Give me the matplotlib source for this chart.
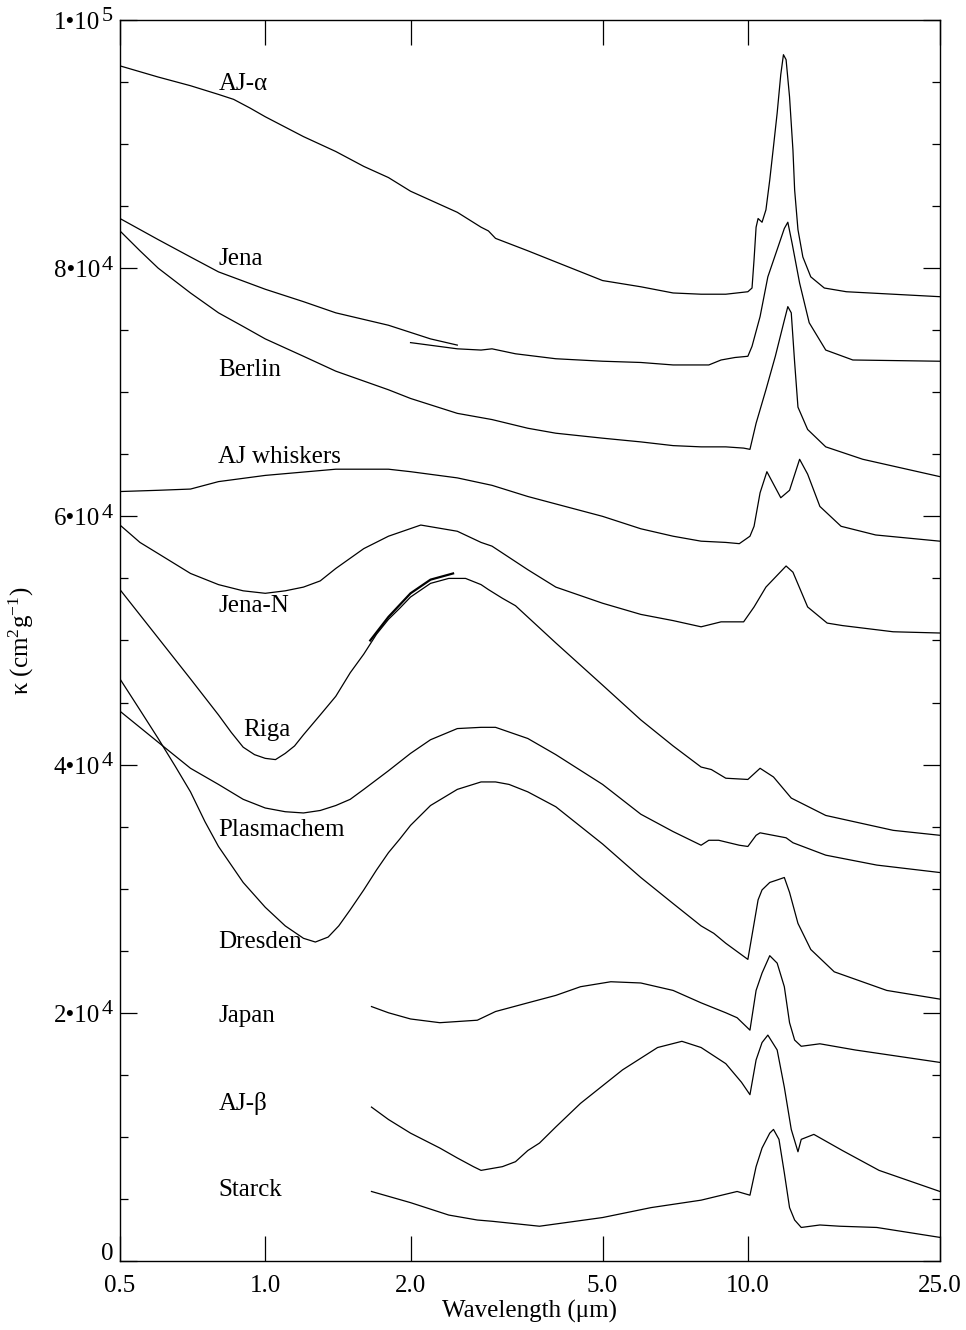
import matplotlib.pyplot as plt
from matplotlib.ticker import FixedLocator, NullLocator
from matplotlib.transforms import blended_transform_factory, offset_copy

plt.rcParams['font.family'] = ['Liberation Serif', 'DejaVu Serif']
plt.rcParams['mathtext.fontset'] = 'custom'
plt.rcParams['mathtext.rm'] = 'Liberation Serif'
plt.rcParams['mathtext.it'] = 'Liberation Serif:italic'

# mass absorption coefficient, in units of 1000 cm^2/g

aja_wl = [0.5, 0.6, 0.7, 0.8, 0.86, 0.93, 1.0, 1.2, 1.4, 1.6, 1.8, 2.0, 2.5, 2.8, 2.9, 3.0,
          3.5, 4.0, 5.0, 6.0, 7.0, 8.0, 9.0, 10.0, 10.2, 10.3, 10.4, 10.5, 10.7, 10.9, 11.1,
          11.3, 11.5, 11.7, 11.85, 12.0, 12.2, 12.4, 12.5, 12.7, 13.0, 13.5, 14.4, 16.0,
          20.0, 25.0]
aja_k = [96.3, 95.4, 94.7, 94.0, 93.6, 92.9, 92.2, 90.6, 89.4, 88.2, 87.3, 86.2, 84.5, 83.3,
         83.0, 82.4, 81.4, 80.5, 79.0, 78.5, 78.0, 77.9, 77.9, 78.1, 78.4, 80.7, 83.3, 84.0,
         83.7, 84.7, 87.1, 89.8, 92.5, 95.6, 97.2, 96.8, 93.8, 89.5, 86.3, 83.1, 80.9,
         79.3, 78.4, 78.1, 77.9, 77.7]

jena_a_wl = [0.5, 0.6, 0.7, 0.8, 1.0, 1.2, 1.4, 1.8, 2.2, 2.5]
jena_a_k = [84.0, 82.3, 80.9, 79.7, 78.3, 77.3, 76.4, 75.4, 74.3, 73.8]
jena_b_wl = [2.0, 2.5, 2.8, 2.95, 3.3, 4.0, 5.0, 6.0, 7.0, 8.0, 8.3, 8.8, 9.4, 10.0, 10.2,
             10.6, 11.0, 11.5, 11.9, 12.1, 12.35, 12.8, 13.4, 14.5, 16.5, 25.0]
jena_b_k = [74.0, 73.5, 73.4, 73.5, 73.1, 72.7, 72.5, 72.4, 72.2, 72.2, 72.2, 72.6, 72.8,
            72.9, 73.7, 76.1, 79.3, 81.5, 83.2, 83.7, 82.0, 78.8, 75.6, 73.4, 72.6, 72.5]

berlin_wl = [0.5, 0.55, 0.6, 0.7, 0.8, 0.9, 1.0, 1.2, 1.4, 1.8, 2.0, 2.5, 2.95, 3.5, 4.0,
             5.0, 6.0, 7.0, 8.0, 9.0, 9.8, 10.1, 10.4, 10.9, 11.4, 11.9, 12.1, 12.3, 12.5,
             12.7, 13.3, 14.5, 17.3, 25.0]
berlin_k = [83.0, 81.4, 80.0, 78.0, 76.4, 75.3, 74.3, 72.9, 71.7, 70.2, 69.5, 68.3, 67.8,
            67.1, 66.7, 66.3, 66.0, 65.7, 65.6, 65.6, 65.5, 65.4, 67.5, 70.2, 72.9, 75.8,
            76.9, 76.4, 72.4, 68.8, 67.0, 65.6, 64.6, 63.2]

whisk_wl = [0.5, 0.6, 0.7, 0.8, 1.0, 1.4, 1.8, 2.0, 2.5, 2.95, 3.5, 4.0, 5.0, 6.0, 7.0, 8.0,
            9.0, 9.6, 10.1, 10.3, 10.6, 10.95, 11.3, 11.7, 12.2, 12.8, 13.3, 14.1, 15.6,
            18.4, 25.0]
whisk_k = [62.0, 62.1, 62.2, 62.8, 63.3, 63.8, 63.8, 63.6, 63.1, 62.5, 61.6, 61.0, 60.0,
           59.0, 58.4, 58.0, 57.9, 57.8, 58.4, 59.2, 61.9, 63.6, 62.6, 61.5, 62.1, 64.6,
           63.4, 60.8, 59.2, 58.5, 58.0]

jenan_wl = [0.5, 0.55, 0.6, 0.7, 0.8, 0.9, 1.0, 1.1, 1.2, 1.3, 1.4, 1.6, 1.8, 2.1, 2.5,
            2.8, 2.95, 3.5, 4.0, 5.0, 6.0, 7.0, 8.0, 8.8, 9.8, 10.3, 10.9, 12.0, 12.4, 13.3,
            14.6, 15.7, 20.0, 25.0]
jenan_k = [59.3, 57.9, 57.0, 55.4, 54.5, 54.0, 53.8, 54.0, 54.3, 54.8, 55.8, 57.4, 58.4,
           59.3, 58.8, 57.9, 57.6, 55.7, 54.3, 53.0, 52.1, 51.6, 51.1, 51.5, 51.5, 52.7,
           54.3, 56.0, 55.5, 52.7, 51.4, 51.2, 50.7, 50.6]

riga_wl = [0.5, 0.6, 0.7, 0.8, 0.85, 0.9, 0.95, 1.0, 1.05, 1.1, 1.15, 1.2, 1.3, 1.4, 1.5,
           1.6, 1.7, 1.8, 1.9, 2.0, 2.2, 2.4, 2.6, 2.8, 2.9, 3.1, 3.3, 4.0, 5.0, 6.0, 7.0,
           8.0, 8.4, 9.0, 10.0, 10.6, 11.3, 12.3, 14.5, 20.0, 25.0]
riga_k = [54.1, 50.2, 46.9, 44.0, 42.6, 41.4, 40.8, 40.5, 40.4, 40.9, 41.5, 42.4, 44.0, 45.5,
          47.4, 48.9, 50.5, 51.7, 52.6, 53.5, 54.6, 55.0, 55.0, 54.5, 54.1, 53.4, 52.8, 49.8,
          46.4, 43.6, 41.5, 39.8, 39.6, 38.9, 38.8, 39.7, 39.0, 37.3, 35.9, 34.7, 34.3]
riga_ext_wl = [1.65, 1.8, 2.0, 2.2, 2.45]
riga_ext_k = [50.0, 51.9, 53.8, 54.9, 55.4]

plasma_wl = [0.5, 0.6, 0.7, 0.8, 0.9, 1.0, 1.1, 1.2, 1.3, 1.4, 1.5, 1.6, 1.8, 2.0, 2.2, 2.5,
             2.8, 3.0, 3.5, 4.0, 5.0, 6.0, 7.0, 8.0, 8.3, 8.7, 9.6, 10.0, 10.4, 10.6, 12.0,
             12.4, 14.5, 18.5, 25.0]
plasma_k = [44.3, 41.8, 39.7, 38.4, 37.2, 36.5, 36.2, 36.1, 36.3, 36.7, 37.2, 38.0, 39.5,
            40.9, 42.0, 42.9, 43.0, 43.0, 42.1, 40.8, 38.4, 36.0, 34.6, 33.5, 33.9, 33.9,
            33.5, 33.4, 34.3, 34.5, 34.1, 33.7, 32.7, 31.9, 31.3]

dresden_wl = [0.5, 0.55, 0.6, 0.65, 0.7, 0.75, 0.8, 0.9, 1.0, 1.1, 1.2, 1.27, 1.35, 1.42,
              1.5, 1.6, 1.7, 1.8, 1.9, 2.0, 2.2, 2.5, 2.8, 3.0, 3.2, 3.5, 4.0, 5.0, 6.0, 7.0,
              8.0, 8.5, 9.0, 10.0, 10.3, 10.5, 10.7, 11.1, 11.5, 11.9, 12.2, 12.7, 13.5,
              15.1, 19.4, 25.0]
dresden_k = [46.9, 44.4, 42.1, 39.9, 37.8, 35.4, 33.4, 30.5, 28.5, 27.0, 26.0, 25.7, 26.1,
             27.0, 28.3, 29.9, 31.5, 32.9, 34.0, 35.1, 36.7, 38.0, 38.6, 38.6, 38.4, 37.8,
             36.6, 33.6, 30.9, 28.8, 27.0, 26.4, 25.6, 24.3, 27.2, 29.1, 29.9, 30.5, 30.7,
             30.9, 29.7, 27.2, 25.1, 23.3, 21.8, 21.1]

japan_wl = [1.66, 1.8, 2.0, 2.3, 2.75, 3.0, 3.5, 4.0, 4.5, 5.2, 6.0, 7.0, 8.0, 9.0, 9.5,
            10.1, 10.4, 10.7, 11.1, 11.5, 11.9, 12.2, 12.5, 12.9, 14.1, 16.7, 25.0]
japan_k = [20.5, 20.0, 19.5, 19.2, 19.4, 20.1, 20.8, 21.4, 22.1, 22.5, 22.4, 21.8, 20.8,
           20.0, 19.6, 18.6, 21.8, 23.2, 24.6, 24.0, 22.1, 19.2, 17.8, 17.3, 17.5, 17.0, 16.0]

ajb_wl = [1.66, 1.8, 2.0, 2.3, 2.5, 2.7, 2.8, 3.1, 3.3, 3.5, 3.7, 4.0, 4.5, 5.5, 6.5, 7.3,
          8.0, 9.0, 9.7, 10.1, 10.4, 10.7, 11.0, 11.5, 11.9, 12.3, 12.7, 12.9, 13.7, 15.7,
          18.7, 25.0]
ajb_k = [12.4, 11.4, 10.3, 9.1, 8.3, 7.6, 7.3, 7.6, 8.0, 8.9, 9.5, 10.8, 12.7, 15.4, 17.2,
         17.7, 17.2, 15.9, 14.4, 13.4, 16.2, 17.6, 18.2, 17.0, 14.0, 10.6, 8.8, 9.8, 10.2,
         8.9, 7.3, 5.6]

starck_wl = [1.66, 2.0, 2.4, 2.75, 2.95, 3.7, 5.0, 6.3, 8.0, 9.5, 10.1, 10.4, 10.7, 11.1,
             11.3, 11.6, 11.9, 12.2, 12.5, 12.9, 14.1, 15.5, 18.5, 25.0]
starck_k = [5.6, 4.7, 3.7, 3.3, 3.2, 2.8, 3.5, 4.3, 4.9, 5.6, 5.3, 7.6, 9.1, 10.3, 10.6, 9.8,
            7.1, 4.3, 3.3, 2.7, 2.9, 2.8, 2.7, 1.9]

curves = [(aja_wl, aja_k), (jena_a_wl, jena_a_k), (jena_b_wl, jena_b_k),
          (berlin_wl, berlin_k), (whisk_wl, whisk_k), (jenan_wl, jenan_k),
          (riga_wl, riga_k), (plasma_wl, plasma_k), (dresden_wl, dresden_k),
          (japan_wl, japan_k), (ajb_wl, ajb_k), (starck_wl, starck_k)]

names = ['AJ-α', 'Jena', 'Berlin', 'AJ whiskers', 'Jena-N', 'Riga', 'Plasmachem',
         'Dresden', 'Japan', 'AJ-β', 'Starck']
name_wl = [0.8, 0.8, 0.8, 0.8, 0.8, 0.9, 0.8, 0.8, 0.8, 0.8, 0.8]
name_k = [94.8, 80.7, 71.8, 64.8, 52.8, 42.8, 34.7, 25.7, 19.7, 12.7, 5.7]

xticks = [0.5, 1.0, 2.0, 5.0, 10.0, 25.0]
yticks = [0, 20000, 40000, 60000, 80000, 100000]
ytick_base = ['0', '2•10', '4•10', '6•10', '8•10', '1•10']
ytick_exp = ['', '4', '4', '4', '4', '5']

fig = plt.figure(figsize=(9.66, 13.3), dpi=100)
ax = fig.add_axes([0.1242, 0.0519, 0.8488, 0.9331])

for wl, k in curves:
    ax.plot(wl, [v * 1000 for v in k], color='black', lw=0.9)
ax.plot(riga_ext_wl, [v * 1000 for v in riga_ext_k], color='black', lw=1.6)

for name, x, y in zip(names, name_wl, name_k):
    ax.text(x, y * 1000, name, fontsize=18, ha='left', va='center')

ax.set_xscale('log')
ax.set_xlim(0.5, 25)
ax.set_ylim(0, 100000)
ax.xaxis.set_major_locator(FixedLocator(xticks))
ax.xaxis.set_minor_locator(NullLocator())
ax.set_xticklabels(['%.1f' % t for t in xticks])
ax.yaxis.set_major_locator(FixedLocator(yticks))
ax.yaxis.set_minor_locator(FixedLocator(range(0, 100001, 5000)))
ax.set_yticklabels([])

# y tick labels drawn by hand so the exponent can be large, as in the original
ytrans = blended_transform_factory(ax.transAxes, ax.transData)
for val, base, ex in zip(yticks, ytick_base, ytick_exp):
    if ex:
        ax.text(0, val, ex, fontsize=16, ha='right', va='baseline', clip_on=False,
                transform=offset_copy(ytrans, fig=fig, x=-5, y=-1, units='points'))
        ax.text(0, val, base, fontsize=18, ha='right', va='baseline', clip_on=False,
                transform=offset_copy(ytrans, fig=fig, x=-14.5, y=-6.5, units='points'))
    else:
        ax.text(0, val, base, fontsize=18, ha='right', va='baseline', clip_on=False,
                transform=offset_copy(ytrans, fig=fig, x=-4.5, y=0.5, units='points'))

ax.tick_params(which='both', direction='in', top=True, right=True, labelsize=18, width=0.9)
ax.tick_params(axis='x', which='major', length=18, pad=10)
ax.tick_params(axis='y', which='major', length=12)
ax.tick_params(axis='y', which='minor', length=6)
for s in ax.spines.values():
    s.set_linewidth(1.0)

ax.set_xlabel('Wavelength (μm)', fontsize=18, labelpad=2)
ax.set_ylabel('κ (cm$^{2}$g$^{-1}$)', fontsize=18)
ax.yaxis.set_label_coords(-0.102, 0.5)

fig.savefig('out.png', dpi=100)
